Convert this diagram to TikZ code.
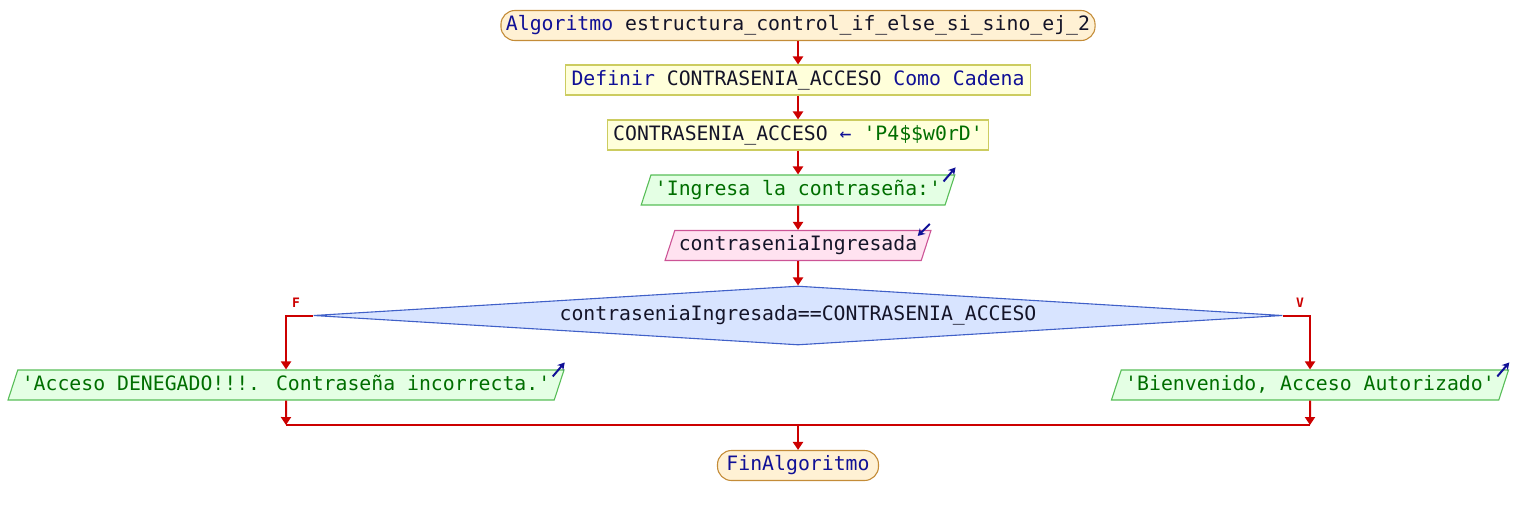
\documentclass[tikz,border=0pt]{standalone}
\usepackage{fontspec}
\newfontfamily\psfont{DejaVu Sans Mono}
\usetikzlibrary{shapes.geometric,arrows.meta}
\definecolor{flowred}{RGB}{204,0,0}
\definecolor{kwblue}{RGB}{16,16,150}
\definecolor{strgreen}{RGB}{0,110,0}
\definecolor{txtdark}{RGB}{20,20,40}
\definecolor{termfill}{RGB}{255,241,212}
\definecolor{termline}{RGB}{196,140,56}
\definecolor{procfill}{RGB}{255,255,218}
\definecolor{procline}{RGB}{204,204,96}
\definecolor{outfill}{RGB}{228,255,228}
\definecolor{outline}{RGB}{88,190,88}
\definecolor{infill}{RGB}{255,226,240}
\definecolor{inline}{RGB}{204,84,150}
\definecolor{condfill}{RGB}{216,228,255}
\definecolor{condline}{RGB}{64,96,200}

\begin{document}
\begin{tikzpicture}[x=1pt,y=-1pt,
  every node/.style={font=\psfont\fontsize{19.8}{22}\selectfont, text=txtdark,
    inner xsep=5pt, inner ysep=5pt, text height=15pt, text depth=5pt},
  term/.style={draw=termline, fill=termfill, rounded corners=14pt, line width=1.1pt},
  proc/.style={draw=procline, fill=procfill, line width=1.1pt, inner xsep=6pt},
  para/.style={trapezium, trapezium left angle=72, trapezium right angle=108,
    line width=1.1pt, inner xsep=4pt},
  outp/.style={para, draw=outline, fill=outfill, text=strgreen},
  inp/.style={para, draw=inline, fill=infill},
  cond/.style={diamond, aspect=16.4, draw=condline, fill=condfill, line width=1.1pt,
    inner sep=0pt, minimum width=969pt, minimum height=59pt},
  lbl/.style={font=\psfont\bfseries\fontsize{13}{14}\selectfont, text=flowred,
    inner sep=0pt, text height=9pt, text depth=0pt},
  flow/.style={draw=flowred, line width=2pt, -{Triangle[width=10pt,length=8pt]}},
  line/.style={draw=flowred, line width=2pt},
  io/.style={draw=kwblue, line width=2pt, -{Stealth[length=7pt,width=8pt]}}
]
\useasboundingbox (0,0) rectangle (1518,515);

\node[term] (inicio) at (798,25.5)
  {\textcolor{kwblue}{Algoritmo} estructura\_control\_if\_else\_si\_sino\_ej\_2};
\node[proc] (definir) at (798,80)
  {\textcolor{kwblue}{Definir} CONTRASENIA\_ACCESO \textcolor{kwblue}{Como Cadena}};
\node[proc] (asignar) at (798,135)
  {CONTRASENIA\_ACCESO \textcolor{kwblue}{←} \textcolor{strgreen}{'P4\$\$w0rD'}};
\node[outp] (pedir) at (798,190) {'Ingresa la contraseña:'};
\node[inp] (leer) at (798,245.5) {contraseniaIngresada};
\node[cond] (si) at (798,315.5) {contraseniaIngresada==CONTRASENIA\_ACCESO};
\node[outp] (denegado) at (286,385) {'Acceso DENEGADO!!!. Contraseña incorrecta.'};
\node[outp] (bienvenido) at (1310,385) {'Bienvenido, Acceso Autorizado'};
\node[term, minimum width=161pt] (fin) at (798,465.5) {\textcolor{kwblue}{FinAlgoritmo}};

\node[lbl] (falso) at (296,303) {F};
\node[lbl] (verdad) at (1300,303) {V};

\coordinate (unir) at (798,425);
\coordinate (unirF) at (286,425);
\coordinate (unirV) at (1310,425);

\draw[flow] (inicio) -- (definir);
\draw[flow] (definir) -- (asignar);
\draw[flow] (asignar) -- (pedir);
\draw[flow] (pedir) -- (leer);
\draw[flow] (leer) -- (si);
\draw[flow] (si.west) -| (denegado.north);
\draw[flow] (si.east) -| (bienvenido.north);
\draw[flow] (denegado.south) -- (unirF);
\draw[flow] (bienvenido.south) -- (unirV);
\draw[line] (unirF) -- (unirV);
\draw[flow] (unir) -- (fin);

\foreach \n in {pedir,denegado,bienvenido}
  \draw[io] ([xshift=-12pt,yshift=-7pt]\n.top right corner) -- ([yshift=7pt]\n.top right corner);
\draw[io] ([xshift=-2pt,yshift=6pt]leer.top right corner) -- ([xshift=-14pt,yshift=-6pt]leer.top right corner);
\end{tikzpicture}
\end{document}
